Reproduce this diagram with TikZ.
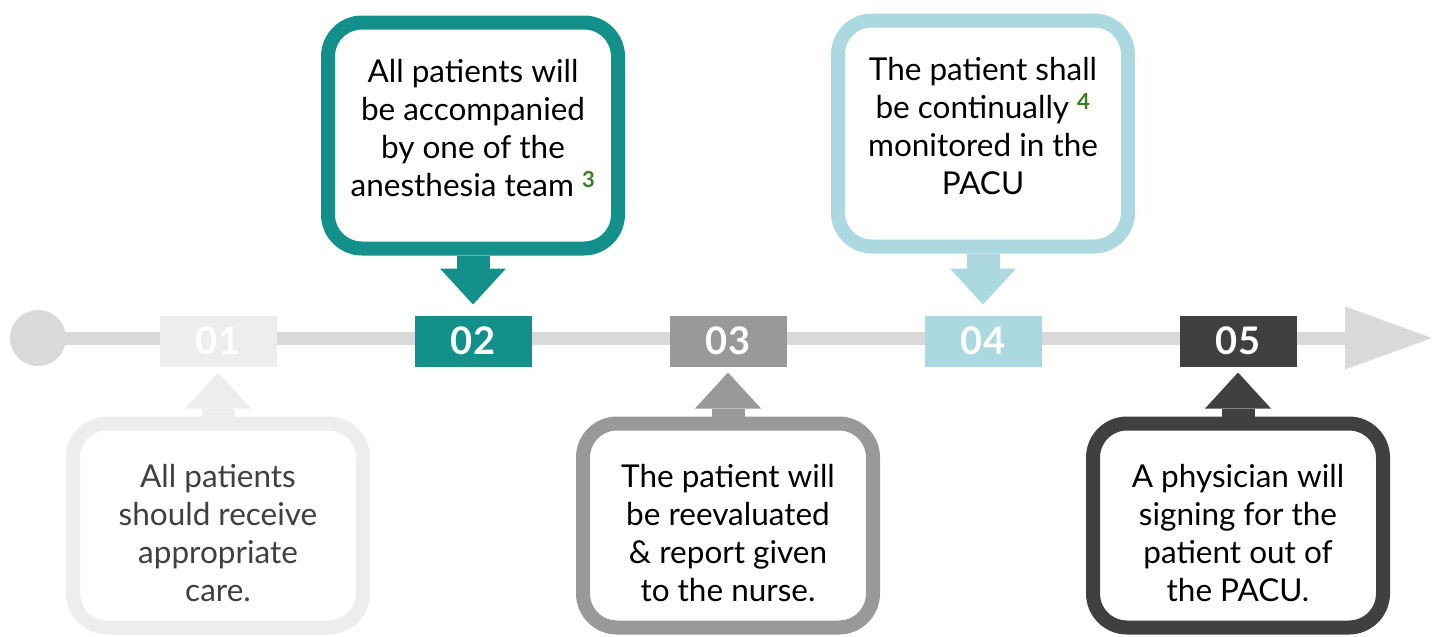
\documentclass[tikz,border=0pt]{standalone}
\usepackage{fontspec}
\setmainfont{Lato}
\usepackage{xcolor}
\definecolor{cLine}{HTML}{D9D9D9}
\definecolor{cPale}{HTML}{EDEDED}
\definecolor{cTeal}{HTML}{14908A}
\definecolor{cMid}{HTML}{999999}
\definecolor{cSky}{HTML}{ACD8DF}
\definecolor{cDark}{HTML}{404040}
\definecolor{cNote}{HTML}{3B7D23}
\usetikzlibrary{positioning,arrows.meta}
\newcommand{\noteref}[1]{\textsuperscript{\color{cNote}\bfseries #1}}
\tikzset{
  node-num/.style={fill=#1,text=white,minimum width=117pt,minimum height=51pt,
    inner sep=0pt,outer sep=0pt,font=\fontsize{38}{40}\selectfont\bfseries},
  node-call/.style={draw=#1,line width=14pt,fill=white,rounded corners=34pt,
    minimum width=290pt,align=center,font=\fontsize{31.5}{38}\selectfont},
  % text sits a little high in the upper boxes, a little low in the lower ones
  node-call-up/.style={minimum height=226pt,text depth=15pt},
  node-call-down/.style={minimum height=204pt,text height=153pt},
  arrow-call/.style={draw=#1,line width=33pt,
    -{Triangle[width=66pt,length=36pt,line width=0pt]}},
  timeline/.style={draw=cLine,line width=13pt,
    -{Triangle[width=63pt,length=87pt,line width=0pt]}},
}

\begin{document}
\begin{tikzpicture}[x=1pt,y=-1pt]
  \useasboundingbox (0,0) rectangle (1438,637);

  % axis
  \node[circle,fill=cLine,minimum size=56pt,inner sep=0pt] (start) at (38,338) {};
  \coordinate (end) at (1432,338);
  \draw[timeline] (start.center) -- (end);

  % steps on the axis
  \node[node-num=cPale] (num1) at (218,341) {01};
  \node[node-num=cTeal,right=138pt of num1] (num2) {02};
  \node[node-num=cMid,right=138pt of num2] (num3) {03};
  \node[node-num=cSky,right=138pt of num3] (num4) {04};
  \node[node-num=cDark,right=138pt of num4] (num5) {05};

  % callouts
  \node[node-call=cPale,node-call-down,text=cDark,below=50pt of num1] (call1)
    {All patients\\should receive\\appropriate\\care.};
  \node[node-call=cTeal,node-call-up,above=60pt of num2] (call2)
    {All patients will\\be accompanied\\by one of the\\anesthesia team \noteref{3}};
  \node[node-call=cMid,node-call-down,below=50pt of num3] (call3)
    {The patient will\\be reevaluated\\\& report given\\to the nurse.};
  \node[node-call=cSky,node-call-up,above=62pt of num4] (call4)
    {The patient shall\\be continually \noteref{4}\\monitored in the\\PACU};
  \node[node-call=cDark,node-call-down,below=50pt of num5] (call5)
    {A physician will\\signing for the\\patient out of\\the PACU.};

  \draw[arrow-call=cPale,shorten >=6pt] (call1) -- (num1);
  \draw[arrow-call=cTeal,shorten >=11pt] (call2) -- (num2);
  \draw[arrow-call=cMid,shorten >=6pt] (call3) -- (num3);
  \draw[arrow-call=cSky,shorten >=11pt] (call4) -- (num4);
  \draw[arrow-call=cDark,shorten >=6pt] (call5) -- (num5);
\end{tikzpicture}
\end{document}
